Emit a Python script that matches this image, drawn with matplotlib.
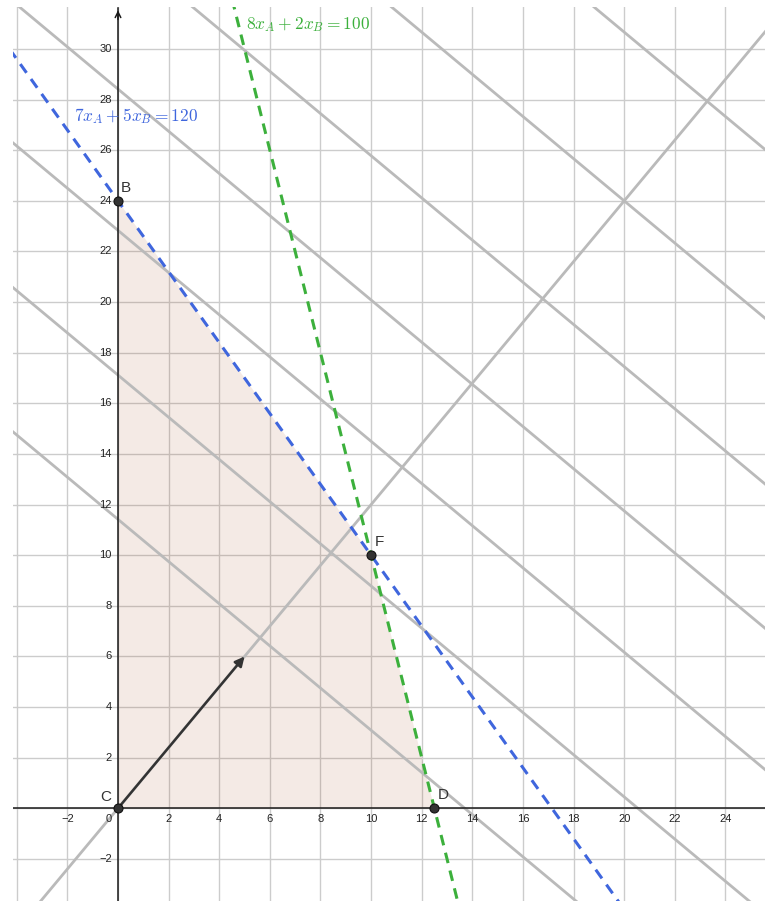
import matplotlib
matplotlib.use("Agg")
import matplotlib.pyplot as plt
import numpy as np

# ---- data ----
constraint_a = [7, 5, 120]     # 7xA + 5xB = 120
constraint_b = [8, 2, 100]     # 8xA + 2xB = 100
objective_dir = [5, 6]         # gradient arrow
level_values = [68.5, 102.7, 137.0, 170.5, 204.7, 244.0, 284.0]
region_x = [0, 0, 10, 12.5]
region_y = [0, 24, 10, 0]
point_names = ["C", "B", "F", "D"]
x_ticks = [-2, 0, 2, 4, 6, 8, 10, 12, 14, 16, 18, 20, 22, 24]
y_ticks = [-2, 2, 4, 6, 8, 10, 12, 14, 16, 18, 20, 22, 24, 26, 28, 30]

W, H = 765, 901
s = 25.31
left_px, top_px = 13, 7
x0_px, y0_px = 118, 808.3
xmin = (left_px - x0_px) / s
xmax = (W - x0_px) / s
ymin = -(H - y0_px) / s
ymax = (y0_px - top_px) / s

fig = plt.figure(figsize=(W / 100, H / 100), dpi=100)
ax = fig.add_axes([left_px / W, 0, (W - left_px) / W, (H - top_px) / H])
ax.set_xlim(xmin, xmax)
ax.set_ylim(ymin, ymax)
ax.axis("off")

grid_c = "#cccccc"
for gx in np.arange(-4, 26, 2):
    ax.axvline(gx, color=grid_c, lw=1.0, zorder=0)
for gy in np.arange(-2, 32, 2):
    ax.axhline(gy, color=grid_c, lw=1.0, zorder=0)

# feasible region
ax.fill(region_x, region_y, color="#993300", alpha=0.1, lw=0, zorder=1)

xs = np.array([xmin - 1, xmax + 1])
line_c = "#bababa"
# level lines
for c in level_values:
    ax.plot(xs, (c - objective_dir[0] * xs) / objective_dir[1], color=line_c, lw=2, zorder=2)
# direction line through origin
ax.plot(xs, objective_dir[1] / objective_dir[0] * xs, color=line_c, lw=2, zorder=2)

# axes
ax.axhline(0, color="#1a1a1a", lw=1.1, zorder=3)
ax.plot([0, 0], [ymin, ymax - 0.05], color="#1a1a1a", lw=1.1, zorder=3)
ax.annotate("", xy=(0, ymax - 0.02), xytext=(0, ymax - 0.6),
            arrowprops=dict(arrowstyle="->", color="#1a1a1a", lw=1.1,
                            mutation_scale=10), zorder=3)

# constraints
a1, b1, c1 = constraint_a
a2, b2, c2 = constraint_b
blue = "#3f66dd"
green = "#3cb03c"
ax.plot(xs, (c1 - a1 * xs) / b1, color=blue, lw=2.2, ls=(0, (3.5, 2.5)), zorder=4)
ax.plot(xs, (c2 - a2 * xs) / b2, color=green, lw=2.2, ls=(0, (3.5, 2.5)), zorder=4)

plt.rcParams["mathtext.fontset"] = "cm"
ax.text((74 - x0_px) / s, (y0_px - 116) / s, r"$7x_A + 5x_B = 120$", color=blue,
        fontsize=12.5, va="center", ha="left", zorder=6)
ax.text((246 - x0_px) / s, (y0_px - 25) / s, r"$8x_A + 2x_B = 100$", color=green,
        fontsize=12.5, va="center", ha="left", zorder=6)

# arrow
ax.annotate("", xy=(objective_dir[0], objective_dir[1]), xytext=(0, 0),
            arrowprops=dict(arrowstyle="-|>", color="#333333", lw=1.8,
                            mutation_scale=14, shrinkA=0, shrinkB=0), zorder=5)

# points
ax.scatter(region_x, region_y, s=42, color="#333333", edgecolor="#111111",
           lw=0.8, zorder=7)
offsets = {"C": (-18, 4), "B": (3, 6), "F": (4, 6), "D": (3, 6)}
for name, px, py in zip(point_names, region_x, region_y):
    dx, dy = offsets[name]
    ax.annotate(name, (px, py), xytext=(dx, dy), textcoords="offset pixels",
                fontsize=11, color="#333333", family="Liberation Sans",
                ha="left", va="bottom", zorder=8)

# tick labels
for t in x_ticks:
    xx = t if t != 0 else -0.38
    lab = ("\u2212" + str(-t)) if t < 0 else str(t)
    ax.text(xx, -0.22, lab, fontsize=8, ha="center", va="top",
            family="Liberation Sans", color="#222222", zorder=6)
for t in y_ticks:
    lab = ("\u2212" + str(-t)) if t < 0 else str(t)
    ax.text(-0.25, t, lab, fontsize=8, ha="right", va="center",
            family="Liberation Sans", color="#222222", zorder=6)

fig.savefig("out.png", dpi=100)
